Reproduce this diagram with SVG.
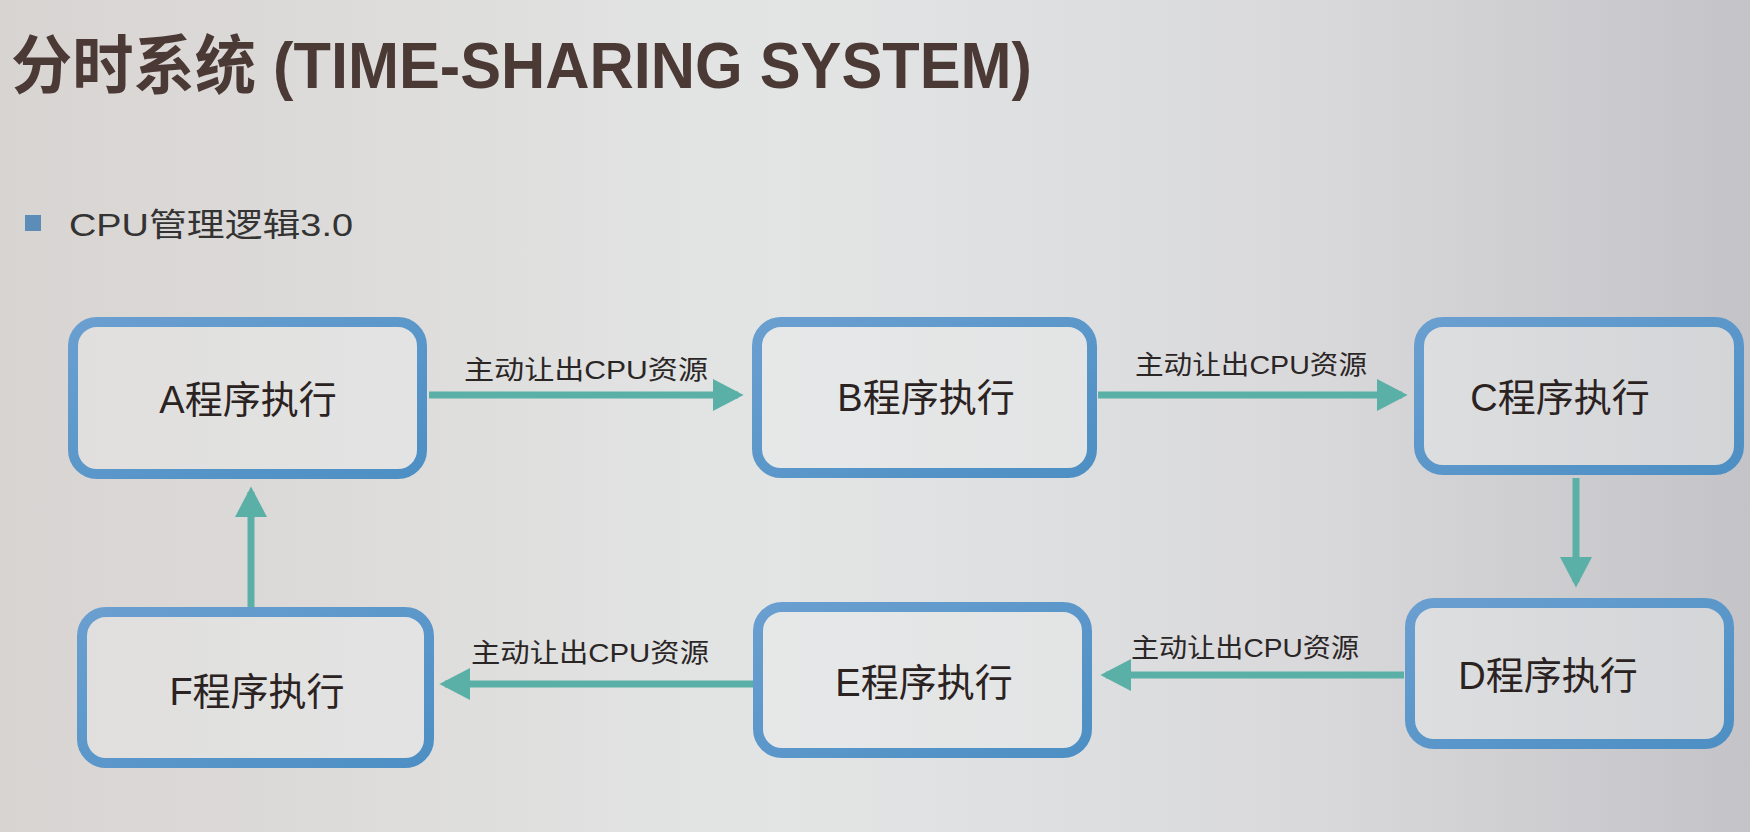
<svg xmlns="http://www.w3.org/2000/svg" width="1750" height="832" viewBox="0 0 1750 832">
<defs>
<linearGradient id="bg" x1="0" y1="0" x2="1" y2="0">
<stop offset="0" stop-color="#d8d4d2"/>
<stop offset="0.45" stop-color="#e3e5e5"/>
<stop offset="0.75" stop-color="#d9d9db"/>
<stop offset="1" stop-color="#c4c4c8"/>
</linearGradient>
<linearGradient id="boxstroke" x1="0" y1="0" x2="1" y2="1">
<stop offset="0" stop-color="#6a9fd0"/>
<stop offset="1" stop-color="#4d8fc4"/>
</linearGradient>
<marker id="ah" markerWidth="4.4" markerHeight="4.6" refX="3.6" refY="2.3" orient="auto" markerUnits="strokeWidth">
<path d="M0,0 L4.4,2.3 L0,4.6 Z" fill="#5aafa6"/>
</marker>
<style>
.box{fill:#eceeee;fill-opacity:0.4;stroke:url(#boxstroke);stroke-width:10}
.lbl{font-family:"Liberation Sans","Noto Sans CJK SC",sans-serif;font-size:38px;fill:#2b2222;text-anchor:middle;dominant-baseline:central}
.edge{fill:none;stroke:#5aafa6;stroke-width:7;marker-end:url(#ah)}
.elbl{font-family:"Liberation Sans","Noto Sans CJK SC",sans-serif;font-size:26px;fill:#2b2626}
</style>
</defs>
<rect x="0" y="0" width="1750" height="832" fill="url(#bg)"/>
<text x="11" y="88" font-family="'Liberation Sans','Noto Sans CJK SC',sans-serif" font-weight="bold" font-size="64" fill="#4a3934" textLength="1021" lengthAdjust="spacingAndGlyphs">分时系统 (TIME-SHARING SYSTEM)</text>
<rect x="25" y="215" width="16" height="16" fill="#5b8db8"/>
<text x="69" y="236" font-family="'Liberation Sans','Noto Sans CJK SC',sans-serif" font-size="32" fill="#333" textLength="284" lengthAdjust="spacingAndGlyphs">CPU管理逻辑3.0</text>

<g id="connectors">
<path class="edge" d="M429,395 H738"/>
<path class="edge" d="M1098,395 H1402"/>
<path class="edge" d="M1576,478 V582"/>
<path class="edge" d="M1404,675 H1106"/>
<path class="edge" d="M753,684 H445"/>
<path class="edge" d="M251,608 V492"/>
<text class="elbl" x="464" y="379" textLength="244" lengthAdjust="spacingAndGlyphs">主动让出CPU资源</text>
<text class="elbl" x="1135" y="374" textLength="232" lengthAdjust="spacingAndGlyphs">主动让出CPU资源</text>
<text class="elbl" x="1131" y="657" textLength="228" lengthAdjust="spacingAndGlyphs">主动让出CPU资源</text>
<text class="elbl" x="471" y="662" textLength="238" lengthAdjust="spacingAndGlyphs">主动让出CPU资源</text>
</g>

<g id="nodeA"><rect class="box" x="73" y="322" width="349" height="152" rx="24"/><text class="lbl" x="248" y="400">A程序执行</text></g>
<g id="nodeB"><rect class="box" x="757" y="322" width="335" height="151" rx="24"/><text class="lbl" x="926" y="398">B程序执行</text></g>
<g id="nodeC"><rect class="box" x="1419" y="322" width="320" height="148" rx="24"/><text class="lbl" x="1560" y="398">C程序执行</text></g>
<g id="nodeD"><rect class="box" x="1410" y="603" width="319" height="141" rx="24"/><text class="lbl" x="1548" y="676">D程序执行</text></g>
<g id="nodeE"><rect class="box" x="758" y="607" width="329" height="146" rx="24"/><text class="lbl" x="924" y="683">E程序执行</text></g>
<g id="nodeF"><rect class="box" x="82" y="612" width="347" height="151" rx="24"/><text class="lbl" x="257" y="692">F程序执行</text></g>
</svg>
